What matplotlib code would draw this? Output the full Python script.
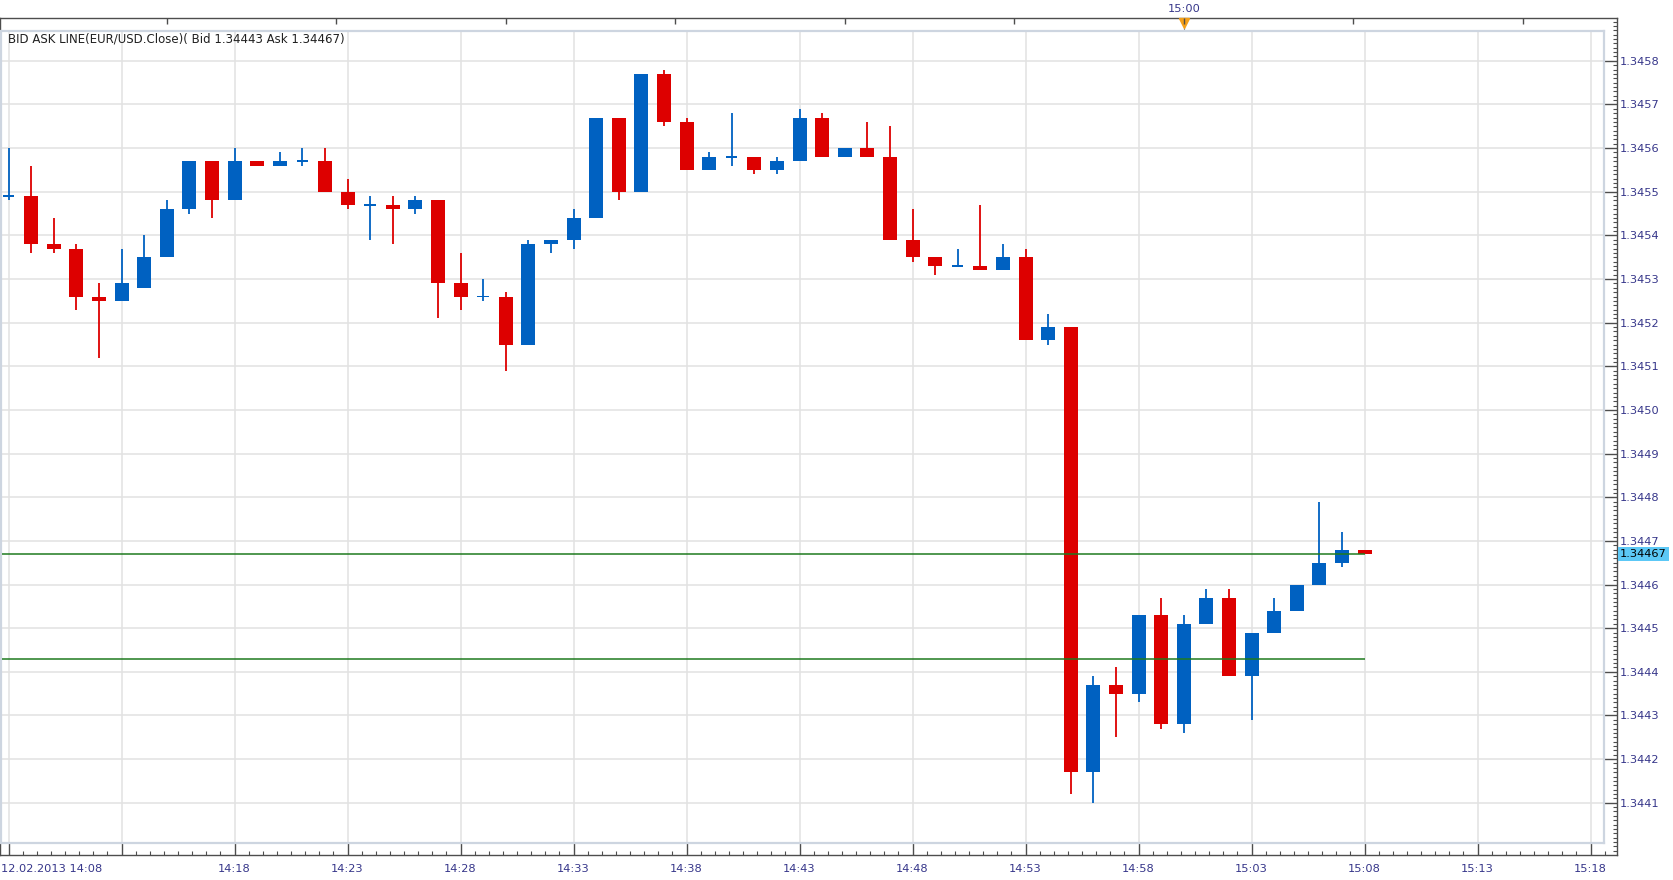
import numpy as np
import pandas as pd
import matplotlib

matplotlib.use('Agg')

import matplotlib.pyplot as plt
import matplotlib.transforms as mtransforms
from matplotlib.ticker import MultipleLocator

plt.rcParams['font.family'] = 'DejaVu Sans'

# EUR/USD 1-minute candles, 12.02.2013 14:08 .. 15:08
start = pd.Timestamp('2013-02-12 14:08')
opens = [1.34549, 1.34549, 1.34538, 1.34537, 1.34526, 1.34525, 1.34528, 1.34535, 1.34546, 1.34557,
         1.34548, 1.34557, 1.34556, 1.34557, 1.34557, 1.34550, 1.34547, 1.34547, 1.34546, 1.34548,
         1.34529, 1.34526, 1.34526, 1.34515, 1.34538, 1.34539, 1.34544, 1.34567, 1.34550, 1.34577,
         1.34566, 1.34555, 1.34558, 1.34558, 1.34555, 1.34557, 1.34567, 1.34558, 1.34560, 1.34558,
         1.34539, 1.34535, 1.34533, 1.34533, 1.34532, 1.34535, 1.34516, 1.34519, 1.34417, 1.34437,
         1.34435, 1.34453, 1.34428, 1.34451, 1.34457, 1.34439, 1.34449, 1.34454, 1.34460, 1.34465,
         1.34468]
highs = [1.34560, 1.34556, 1.34544, 1.34538, 1.34529, 1.34537, 1.34540, 1.34548, 1.34557, 1.34557,
         1.34560, 1.34557, 1.34559, 1.34560, 1.34560, 1.34553, 1.34549, 1.34549, 1.34549, 1.34548,
         1.34536, 1.34530, 1.34527, 1.34539, 1.34539, 1.34546, 1.34567, 1.34567, 1.34577, 1.34578,
         1.34567, 1.34559, 1.34568, 1.34558, 1.34558, 1.34569, 1.34568, 1.34560, 1.34566, 1.34565,
         1.34546, 1.34535, 1.34537, 1.34547, 1.34538, 1.34537, 1.34522, 1.34519, 1.34439, 1.34441,
         1.34453, 1.34457, 1.34453, 1.34459, 1.34459, 1.34449, 1.34457, 1.34460, 1.34479, 1.34472,
         1.34468]
lows = [1.34548, 1.34536, 1.34536, 1.34523, 1.34512, 1.34525, 1.34528, 1.34535, 1.34545, 1.34544,
        1.34548, 1.34556, 1.34556, 1.34556, 1.34550, 1.34546, 1.34539, 1.34538, 1.34545, 1.34521,
        1.34523, 1.34525, 1.34509, 1.34515, 1.34536, 1.34537, 1.34544, 1.34548, 1.34550, 1.34565,
        1.34555, 1.34555, 1.34556, 1.34554, 1.34554, 1.34557, 1.34558, 1.34558, 1.34558, 1.34539,
        1.34534, 1.34531, 1.34533, 1.34532, 1.34532, 1.34516, 1.34515, 1.34412, 1.34410, 1.34425,
        1.34433, 1.34427, 1.34426, 1.34451, 1.34439, 1.34429, 1.34449, 1.34454, 1.34460, 1.34464,
        1.34467]
closes = [1.34549, 1.34538, 1.34537, 1.34526, 1.34525, 1.34529, 1.34535, 1.34546, 1.34557, 1.34548,
          1.34557, 1.34556, 1.34557, 1.34557, 1.34550, 1.34547, 1.34547, 1.34546, 1.34548, 1.34529,
          1.34526, 1.34526, 1.34515, 1.34538, 1.34539, 1.34544, 1.34567, 1.34550, 1.34577, 1.34566,
          1.34555, 1.34558, 1.34558, 1.34555, 1.34557, 1.34567, 1.34558, 1.34560, 1.34558, 1.34539,
          1.34535, 1.34533, 1.34533, 1.34532, 1.34535, 1.34516, 1.34519, 1.34417, 1.34437, 1.34435,
          1.34453, 1.34428, 1.34451, 1.34457, 1.34439, 1.34449, 1.34454, 1.34460, 1.34465, 1.34468,
          1.34467]
bid = 1.34443
ask = 1.34467

price_labels = ['1.3441', '1.3442', '1.3443', '1.3444', '1.3445', '1.3446', '1.3447', '1.3448', '1.3449',
                '1.3450', '1.3451', '1.3452', '1.3453', '1.3454', '1.3455', '1.3456', '1.3457', '1.3458']
time_labels = ['14:08', '14:13', '14:18', '14:23', '14:28', '14:33', '14:38', '14:43', '14:48',
               '14:53', '14:58', '15:03', '15:08', '15:13', '15:18']
hidden_labels = ['14:08', '14:13']   # first one drawn with the date, second one crowded out
top_times = ['14:15:00', '14:22:30', '14:30:00', '14:37:30', '14:45:00', '14:52:30',
             '15:00:00', '15:07:30', '15:15:00']
top_marker_time = '15:00:00'

# ---- layout (pixels) ----
W, H = 1674, 880
PX_PER_MIN = 22.6
X0_PX = 8.54
Y_REF_PX, Y_REF_PRICE, PX_PER_PRICE = 60.85, 1.3458, 436400.0


def to_x(px):
    return (px - X0_PX) / PX_PER_MIN


def to_p(py):
    return Y_REF_PRICE - (py - Y_REF_PX) / PX_PER_PRICE


def rect(l, t, r, b):
    return [l / W, 1 - b / H, (r - l) / W, (b - t) / H]


def minutes(t):
    return (pd.Timestamp('2013-02-12 ' + t) - start) / pd.Timedelta(minutes=1)


o = np.array(opens)
h = np.array(highs)
l = np.array(lows)
c = np.array(closes)
times = pd.date_range(start, periods=len(o), freq='min')
x = ((times - start) / pd.Timedelta(minutes=1)).to_numpy()

price_ticks = [float(s) for s in price_labels]
time_x = [minutes(t) for t in time_labels]
top_x = [minutes(t) for t in top_times]

BLUE = '#0061C1'
RED = '#DD0000'
AXC = '#4d4d4d'
LBL = '#36368a'

fig = plt.figure(figsize=(W / 100, H / 100), dpi=100)

# outer frame with ticks and labels
ax_out = fig.add_axes(rect(0.5, 18, 1617, 855))
ax_out.set_xlim(to_x(0.5), to_x(1617))
ax_out.set_ylim(to_p(855), to_p(18))
for s in ax_out.spines.values():
    s.set_color(AXC)
    s.set_linewidth(1.0)
ax_out.yaxis.tick_right()
ax_out.set_yticks(price_ticks, labels=price_labels)
ax_out.yaxis.set_minor_locator(MultipleLocator(0.00001))
ax_out.tick_params(axis='y', which='major', direction='in', length=9.5, width=1, color=AXC,
                   pad=2.2, labelsize=8.2, labelcolor=LBL)
ax_out.tick_params(axis='y', which='minor', direction='in', length=3, width=0.8, color=AXC)
ax_out.set_xticks(time_x, labels=['' if t in hidden_labels else t for t in time_labels])
ax_out.xaxis.set_minor_locator(MultipleLocator(0.625))
ax_out.tick_params(axis='x', which='major', direction='in', length=8.5, width=1, color=AXC,
                   pad=6.5, labelsize=8.2, labelcolor=LBL)
ax_out.tick_params(axis='x', which='minor', direction='in', length=3, width=0.8, color=AXC)
ax_out.annotate('12.02.2013 ' + time_labels[0], xy=(1, H - 869), xycoords='figure pixels',
                ha='left', va='center', fontsize=8.2, color=LBL)

top = ax_out.twiny()
top.set_xlim(ax_out.get_xlim())
top.set_xticks(top_x, labels=[t[:5] if t == top_marker_time else '' for t in top_times])
top.tick_params(axis='x', direction='in', length=4.3, width=1, color=AXC, pad=3.2,
                labelsize=8.2, labelcolor=LBL)
for s in top.spines.values():
    s.set_visible(False)

mk = minutes(top_marker_time)
blend = mtransforms.blended_transform_factory(ax_out.transData, ax_out.transAxes)
ax_out.plot([mk, mk], [0.994, 0.9845], transform=blend, color='#888888', lw=0.8, clip_on=False)
ax_out.plot([mk], [0.9945], transform=blend, marker='v', ms=6.5, color='#F5A01A',
            mec='#F5A01A', clip_on=False, zorder=10)

# current price label
ax_out.annotate(f'{ask:.5f}', xy=(1, ask),
                xycoords=mtransforms.blended_transform_factory(ax_out.transAxes, ax_out.transData),
                xytext=(2, 0), textcoords='offset points', ha='left', va='center',
                fontsize=8.2, color='black', annotation_clip=False,
                bbox=dict(boxstyle='square,pad=0.18', fc='#5CC8F6', ec='none'))

# inner plot area
ax = fig.add_axes(rect(1.5, 31, 1604, 843))
ax.set_zorder(5)
ax.set_xlim(to_x(1.5), to_x(1604))
ax.set_ylim(to_p(843), to_p(31))
ax.set_xticks(time_x)
ax.set_yticks(price_ticks)
ax.tick_params(length=0, labelbottom=False, labelleft=False)
ax.grid(True, color='#e2e2e2', lw=1.1)
ax.set_axisbelow(True)
for s in ax.spines.values():
    s.set_color('#cdd5e0')
    s.set_linewidth(1.6)

up = c >= o
colors = np.where(up, BLUE, RED)
body = np.abs(c - o)
body_draw = np.maximum(body, 0.0000045)
bottom = np.minimum(o, c) - (body_draw - body) / 2
widths = np.where(body == 0, 0.5, 0.62)
ax.vlines(x, l, h, colors=colors, lw=1.3, zorder=2)
ax.bar(x, body_draw, bottom=bottom, width=widths, color=colors, lw=0, zorder=3)

ax.hlines([ask, bid], ax.get_xlim()[0], x[-1], colors='#1f7a1f', lw=1.1, zorder=4)

ax.annotate('BID ASK LINE(EUR/USD.Close)( Bid %.5f Ask %.5f)' % (bid, ask),
            xy=(8, H - 39), xycoords='figure pixels', ha='left', va='center',
            fontsize=8.5, color='#202020')

fig.savefig('out.png', dpi=100)
